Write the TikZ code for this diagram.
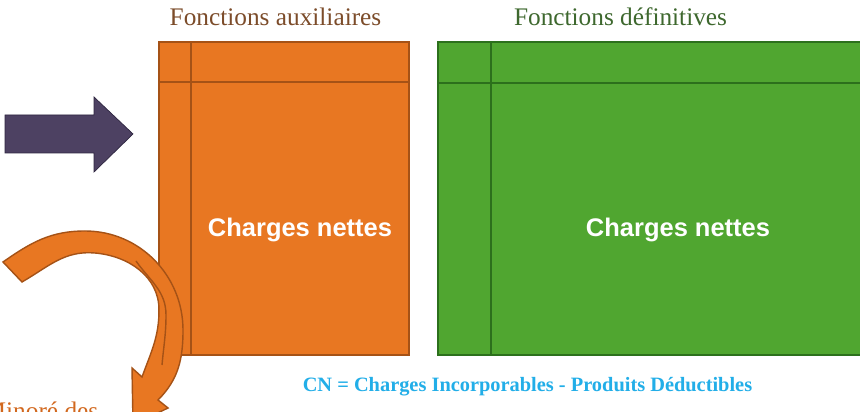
\documentclass[tikz,border=0pt]{standalone}
\usepackage{fontspec}
\setmainfont{Liberation Serif}
\setsansfont{Liberation Sans}
\usepackage{tikz}

\definecolor{auxfill}{RGB}{232,119,34}
\definecolor{auxline}{RGB}{165,82,22}
\definecolor{deffill}{RGB}{80,166,48}
\definecolor{defline}{RGB}{44,112,28}
\definecolor{arrowfill}{RGB}{77,65,98}
\definecolor{arrowline}{RGB}{46,38,64}
\definecolor{auxtext}{RGB}{124,76,42}
\definecolor{deftext}{RGB}{62,104,46}
\definecolor{cntext}{RGB}{34,174,232}
\definecolor{minortext}{RGB}{210,104,30}

\begin{document}
\begin{tikzpicture}[scale=0.1]
                \tikzstyle{every node}+=[inner sep=0pt]
                \tikzstyle{title}=[font=\fontsize{7.2}{8}\selectfont, anchor=base]
                \tikzstyle{net}=[font=\sffamily\bfseries\fontsize{7.25}{8}\selectfont, text=white, anchor=base]
                \useasboundingbox (0,0) rectangle (86,-41.2);
                \fill [white] (0,0) rectangle (86,-41.2);
                % arrow on the left
                \draw [arrowline, fill=arrowfill, line width=0.2pt] (0.5,-11.5) -- (9.4,-11.5) -- (9.4,-9.7) -- (13.3,-13.4) -- (9.4,-17.2) -- (9.4,-15.3) -- (0.5,-15.3) -- cycle;
                % fonctions auxiliaires
                \draw [auxline, fill=auxfill, line width=0.75pt] (15.9,-4.2) rectangle (40.9,-35.5);
                \draw [auxline, line width=0.75pt] (15.9,-8.2) -- (40.9,-8.2);
                \draw [auxline, line width=0.75pt] (19.1,-4.2) -- (19.1,-35.5);
                % fonctions definitives
                \draw [defline, fill=deffill, line width=0.75pt] (43.8,-4.2) rectangle (88,-35.5);
                \draw [defline, line width=0.75pt] (43.8,-8.3) -- (88,-8.3);
                \draw [defline, line width=0.75pt] (49.1,-4.2) -- (49.1,-35.5);
                % curved arrow
                \draw [auxline, fill=auxfill, line width=0.4pt] (0.3,-26.2) to[out=35,in=180] (8.5,-23.1) to[out=0,in=90] (18.3,-33) to[out=-90,in=45] (15.8,-40) -- (16.8,-40.8) -- (13.3,-42.5) -- (13.2,-36.8) -- (14.2,-37.7) to[out=70,in=-90] (15.9,-31) to[out=90,in=-5] (9.5,-25.3) to[out=175,in=30] (2.2,-28.2) -- cycle;
                \draw [auxline, line width=0.4pt] (13.6,-26.1) to[out=-55,in=90] (16.6,-31.5) to[out=-90,in=85] (16.2,-36.5);
                \node [title, text=auxtext] (auxtitle) at (27.55,-2.6) {Fonctions auxiliaires};
                \node [title, text=deftext] (deftitle) at (62.05,-2.6) {Fonctions définitives};
                \node [net] (auxnet) at (30,-23.7) {Charges nettes};
                \node [net] (defnet) at (67.8,-23.7) {Charges nettes};
                \node [font=\bfseries\fontsize{5.8}{6.4}\selectfont, text=cntext, anchor=base] (cn) at (52.75,-39.2) {CN = Charges Incorporables - Produits Déductibles};
                \node [font=\fontsize{7.2}{8}\selectfont, text=minortext, anchor=base west] (minore) at (-1.7,-42) {Minoré des};
            \end{tikzpicture}
\end{document}
